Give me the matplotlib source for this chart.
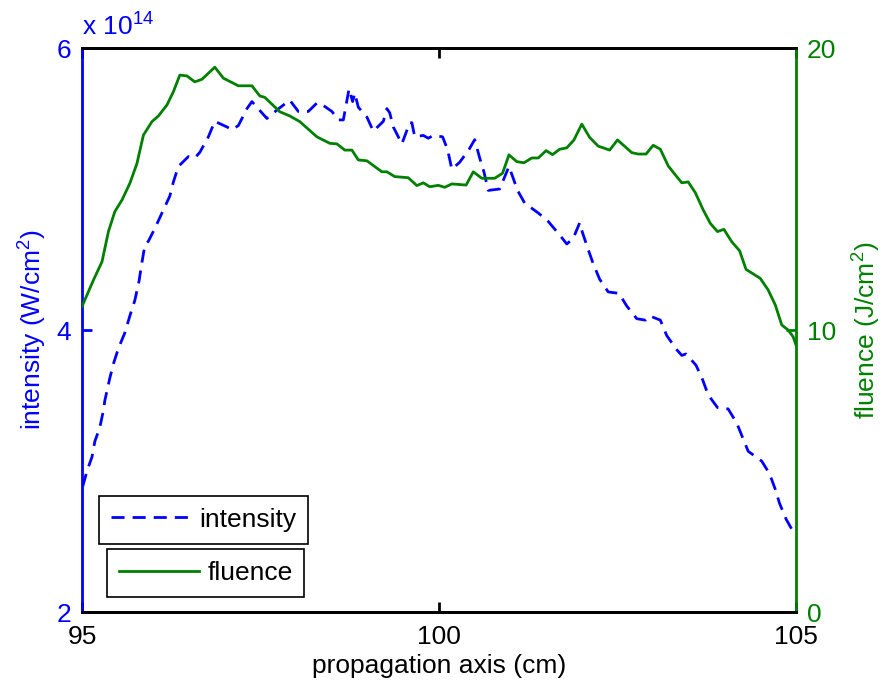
import matplotlib
matplotlib.use("Agg")
import matplotlib.pyplot as plt

plt.rcParams['font.family'] = ['Liberation Sans', 'DejaVu Sans']
plt.rcParams['mathtext.default'] = 'regular'

# fluence (J/cm^2) along the propagation axis (cm)
fluence_x = [95.00, 95.16, 95.28, 95.37, 95.46, 95.56, 95.67, 95.77, 95.86, 95.98,
             96.07, 96.19, 96.28, 96.37, 96.47, 96.58, 96.68, 96.86, 96.98, 97.19,
             97.38, 97.49, 97.56, 97.77, 97.91, 98.05, 98.29, 98.47, 98.57, 98.68,
             98.78, 98.87, 98.99, 99.20, 99.27, 99.38, 99.57, 99.69, 99.78, 99.87,
             99.99, 100.08, 100.18, 100.38, 100.48, 100.60, 100.78, 100.89, 100.98, 101.09,
             101.19, 101.30, 101.39, 101.50, 101.59, 101.69, 101.79, 101.89, 102.00, 102.11,
             102.23, 102.39, 102.50, 102.70, 102.79, 102.90, 103.00, 103.10, 103.21, 103.31,
             103.40, 103.49, 103.59, 103.70, 103.80, 103.90, 103.99, 104.10, 104.21, 104.30,
             104.50, 104.61, 104.71, 104.80, 104.89, 104.96, 105.00]
fluence = [10.83, 11.77, 12.42, 13.49, 14.20, 14.61, 15.20, 15.91, 16.91, 17.39,
           17.59, 17.98, 18.45, 19.04, 19.01, 18.80, 18.89, 19.32, 18.93, 18.66,
           18.66, 18.30, 18.25, 17.74, 17.59, 17.39, 16.85, 16.62, 16.60, 16.38,
           16.38, 16.03, 16.00, 15.61, 15.61, 15.44, 15.40, 15.12, 15.22, 15.08,
           15.13, 15.06, 15.18, 15.14, 15.61, 15.38, 15.38, 15.56, 16.21, 15.97,
           15.93, 16.10, 16.10, 16.36, 16.22, 16.41, 16.46, 16.74, 17.30, 16.83,
           16.52, 16.38, 16.74, 16.29, 16.24, 16.24, 16.55, 16.41, 15.82, 15.50,
           15.22, 15.25, 14.87, 14.26, 13.78, 13.49, 13.57, 13.13, 12.81, 12.15,
           11.83, 11.42, 10.89, 10.18, 10.00, 9.76, 9.47]

# peak intensity in units of 1e14 W/cm^2
intensity_x = [95.01, 95.07, 95.14, 95.18, 95.25, 95.30, 95.32, 95.39, 95.44, 95.51,
               95.60, 95.67, 95.74, 95.80, 95.83, 95.88, 95.93, 96.02, 96.12, 96.23,
               96.28, 96.35, 96.49, 96.58, 96.65, 96.77, 96.86, 97.03, 97.10, 97.19,
               97.31, 97.38, 97.45, 97.59, 97.73, 97.91, 98.03, 98.17, 98.29, 98.33,
               98.50, 98.59, 98.66, 98.74, 98.79, 98.82, 98.87, 98.99, 99.08, 99.22,
               99.27, 99.31, 99.36, 99.48, 99.59, 99.62, 99.66, 99.78, 99.85, 99.92,
               100.05, 100.12, 100.18, 100.29, 100.42, 100.50, 100.57, 100.63, 100.69, 100.85,
               100.98, 101.10, 101.20, 101.39, 101.53, 101.68, 101.79, 101.88, 101.97, 102.01,
               102.09, 102.16, 102.25, 102.37, 102.52, 102.63, 102.77, 102.89, 102.95, 103.10,
               103.19, 103.33, 103.40, 103.46, 103.60, 103.69, 103.77, 103.90, 104.05, 104.17,
               104.25, 104.33, 104.52, 104.63, 104.71, 104.77, 104.86, 104.96, 105.00]
intensity_e14 = [2.89, 3.00, 3.10, 3.21, 3.31, 3.43, 3.50, 3.66, 3.76, 3.87,
                 3.98, 4.10, 4.21, 4.35, 4.45, 4.60, 4.63, 4.72, 4.83, 4.95,
                 5.05, 5.16, 5.23, 5.22, 5.26, 5.37, 5.48, 5.44, 5.42, 5.45,
                 5.57, 5.62, 5.58, 5.50, 5.56, 5.63, 5.55, 5.55, 5.61, 5.61,
                 5.55, 5.49, 5.49, 5.71, 5.62, 5.68, 5.58, 5.51, 5.41, 5.48,
                 5.57, 5.54, 5.44, 5.32, 5.47, 5.47, 5.37, 5.38, 5.36, 5.38,
                 5.37, 5.28, 5.14, 5.19, 5.28, 5.35, 5.22, 5.12, 4.99, 5.00,
                 5.16, 4.99, 4.90, 4.83, 4.77, 4.68, 4.61, 4.65, 4.76, 4.69,
                 4.57, 4.47, 4.36, 4.27, 4.26, 4.17, 4.08, 4.07, 4.10, 4.07,
                 3.96, 3.86, 3.82, 3.83, 3.75, 3.65, 3.54, 3.45, 3.44, 3.34,
                 3.24, 3.14, 3.07, 2.98, 2.87, 2.77, 2.66, 2.57, 2.55]

blue = '#0000ff'
green = '#008000'
fs = 19

fig = plt.figure(figsize=(8.82, 6.85), dpi=100)
ax = fig.add_axes([82/882, 73/685, 714/882, 564/685])
ax2 = ax.twinx()

ax.plot(intensity_x, intensity_e14, color=blue, lw=2, linestyle=(0, (4.7, 2.9)),
        label='intensity')
ax2.plot(fluence_x, fluence, color=green, lw=2, label='fluence')

ax.set_xlim(95, 105)
ax.set_ylim(2, 6)
ax2.set_ylim(0, 20)
ax.set_xticks([95, 100, 105])
ax.set_yticks([2, 4, 6])
ax2.set_yticks([0, 10, 20])

for a in (ax, ax2):
    for s in a.spines.values():
        s.set_linewidth(2)
ax.spines['left'].set_color(blue)
ax.spines['right'].set_visible(False)
ax2.spines['left'].set_visible(False)
ax2.spines['right'].set_color(green)

ax.tick_params(axis='x', direction='in', top=True, length=7, width=2,
               labelsize=fs, pad=9, colors='black')
ax.tick_params(axis='y', direction='in', length=7, width=2, labelsize=fs,
               pad=8, colors=blue)
ax2.tick_params(axis='y', direction='in', length=7, width=2, labelsize=fs,
                pad=8, colors=green)

ax.set_xlabel('propagation axis (cm)', fontsize=fs, labelpad=4)
ax.set_ylabel('intensity (W/cm$^{2}$)', fontsize=fs, color=blue, labelpad=5)
ax2.set_ylabel('fluence (J/cm$^{2}$)', fontsize=fs, color=green, labelpad=10)

fig.text(82/882, (685-36)/685, 'x 10$^{14}$', fontsize=fs, color=blue,
         ha='left', va='baseline')

# two separate legend boxes, one per axis
leg1 = ax.legend(loc='upper left', bbox_to_anchor=(0.024, 0.206), fontsize=fs,
                 borderaxespad=0, fancybox=False, framealpha=1,
                 handlelength=3.05, handletextpad=0.3, borderpad=0.45)
leg1.get_frame().set_edgecolor('black')
leg1.get_frame().set_linewidth(1.2)
leg2 = ax2.legend(loc='upper left', bbox_to_anchor=(0.035, 0.111), fontsize=fs,
                  borderaxespad=0, fancybox=False, framealpha=1,
                  handlelength=3.05, handletextpad=0.3, borderpad=0.45)
leg2.get_frame().set_edgecolor('black')
leg2.get_frame().set_linewidth(1.2)

fig.savefig('out.png', dpi=100)
